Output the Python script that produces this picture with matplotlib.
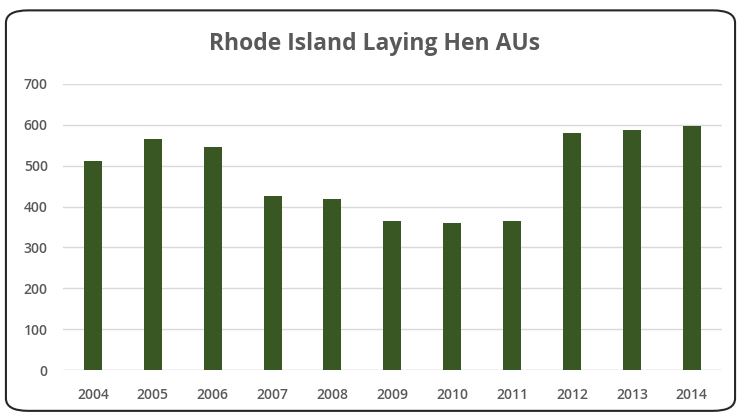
import matplotlib
matplotlib.use("Agg")
import matplotlib.pyplot as plt
from matplotlib.patches import FancyBboxPatch

# laying hen animal units by year
years = ["2004", "2005", "2006", "2007", "2008", "2009", "2010", "2011", "2012", "2013", "2014"]
hen_aus = [512, 566, 546, 427, 418, 364, 360, 364, 581, 587, 597]
y_ticks = [0, 100, 200, 300, 400, 500, 600, 700]

bar_color = "#385723"
text_color = "#595959"
grid_color = "#d9d9d9"

plt.rcParams['font.family'] = ['Open Sans', 'DejaVu Sans']

fig = plt.figure(figsize=(7.41, 4.15), dpi=100)
ax = fig.add_axes([0.085, 0.1084, 0.889, 0.6892])

ax.bar(range(len(years)), hen_aus, width=0.3, color=bar_color, zorder=3)

ax.set_xlim(-0.5, len(years) - 0.5)
ax.set_ylim(0, 700)
ax.set_yticks(y_ticks)
ax.set_xticks(range(len(years)))
ax.set_xticklabels(years)
ax.tick_params(axis="both", length=0, labelsize=10, colors=text_color)
ax.tick_params(axis="x", pad=13)
ax.tick_params(axis="y", pad=11)
for lbl in ax.get_xticklabels() + ax.get_yticklabels():
    lbl.set_fontweight("semibold")

ax.grid(axis="y", color=grid_color, linewidth=1, zorder=0)
for s in ax.spines.values():
    s.set_visible(False)
ax.axhline(0, color=grid_color, linewidth=1, zorder=2)

fig.text(0.505, 0.895, "Rhode Island Laying Hen AUs", ha="center", va="center",
         fontsize=16.5, fontweight="bold", color=text_color)

# rounded chart border
frame = FancyBboxPatch((0.008, 0.01), 0.984, 0.965, transform=fig.transFigure,
                       boxstyle="round,pad=0,rounding_size=0.03",
                       facecolor="none", edgecolor="#262626", linewidth=1.5)
fig.patches.append(frame)

fig.savefig("out.png", dpi=100)
